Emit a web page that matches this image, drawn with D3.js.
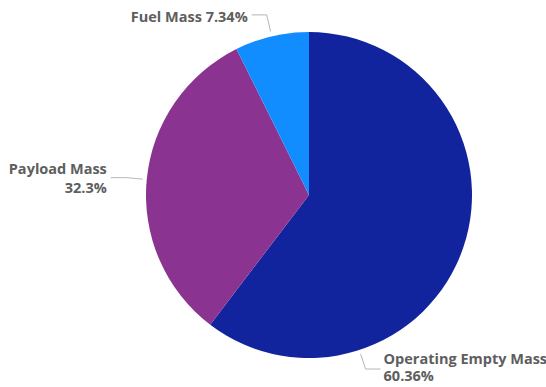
<!DOCTYPE html>
<html>
<head>
<meta charset="utf-8">
<script src="https://cdn.jsdelivr.net/npm/d3@7"></script>
<style>
  body { margin: 0; background: #fff; }
  text { font-family: "Open Sans", sans-serif; font-weight: 700; fill: #5E5E5E; }
</style>
</head>
<body>
<div id="chart"></div>
<script>
// data
const categories = ["Operating Empty Mass", "Payload Mass", "Fuel Mass"];
const shares = [60.36, 32.3, 7.34];
const shareLabels = ["60.36%", "32.3%", "7.34%"];
const colors = ["#12239E", "#8A3391", "#118DFF"];

const width = 546, height = 387;
const cx = 309, cy = 195, radius = 163;

const svg = d3.select("#chart")
    .append("svg")
    .attr("width", width)
    .attr("height", height);

const g = svg.append("g")
    .attr("transform", `translate(${cx}, ${cy})`);

const slices = d3.pie().sort(null).value(d => d)(shares);
const arc = d3.arc().innerRadius(0).outerRadius(radius);

g.selectAll("path.slice")
    .data(slices)
    .enter()
    .append("path")
    .attr("class", "slice")
    .attr("d", arc)
    .attr("fill", (d, i) => colors[i]);

// label layout: angle of the leader, elbow distance, horizontal run, text lines
const labelLayout = [
    {angle: 162, r0: 4, r1: 20, run: 15, side: 1, gap: 3, lines: [categories[0], shareLabels[0]], dy: -5, lh: 16.5},
    {angle: null, r0: 4, r1: 20, run: 16, side: -1, gap: 4, lines: [categories[1], shareLabels[1]], dy: -4, lh: 19},
    {angle: null, r0: 5, r1: 22, run: 15, side: -1, gap: 4, lines: [categories[2] + " " + shareLabels[2]], dy: 7, lh: 0}
];

const polar = (a, r) => [r * Math.sin(a), -r * Math.cos(a)];

slices.forEach((s, i) => {
    const L = labelLayout[i];
    const a = L.angle === null ? (s.startAngle + s.endAngle) / 2 : L.angle * Math.PI / 180;
    const p0 = polar(a, radius + L.r0);
    const p1 = polar(a, radius + L.r1);
    const p2 = [p1[0] + L.side * L.run, p1[1]];

    g.append("polyline")
        .attr("points", [p0, p1, p2].map(p => p.join(",")).join(" "))
        .attr("fill", "none")
        .attr("stroke", "#B8B6B4")
        .attr("stroke-width", 1);

    const t = g.append("text")
        .attr("x", p2[0] + L.side * L.gap)
        .attr("y", p2[1] + L.dy)
        .attr("text-anchor", L.side > 0 ? "start" : "end")
        .style("font-size", "14.5px");
    L.lines.forEach((line, k) => {
        t.append("tspan")
            .attr("x", p2[0] + L.side * L.gap)
            .attr("dy", k === 0 ? 0 : L.lh)
            .text(line);
    });
});
</script>
</body>
</html>
